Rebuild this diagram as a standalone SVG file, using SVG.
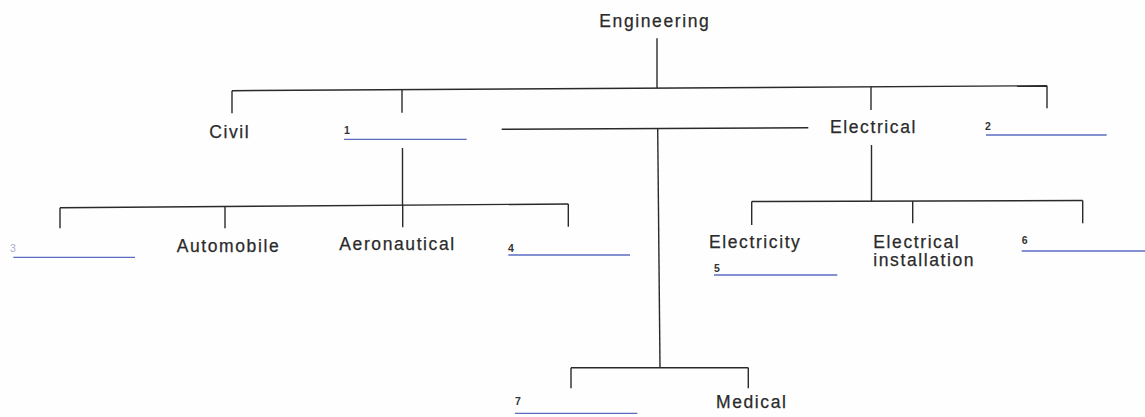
<svg xmlns="http://www.w3.org/2000/svg" width="1145" height="417" viewBox="0 0 1145 417">
<style>
.bg{fill:#fefefe}
.lbl{font-family:"Liberation Sans",Arial,Helvetica,sans-serif;font-size:17.5px;letter-spacing:1.6px;fill:#2a2a2a;stroke:#2a2a2a;stroke-width:0.25}
.num{font-family:"Liberation Sans",Arial,Helvetica,sans-serif;font-size:10.5px;font-weight:bold;fill:#333}
.faint{fill:#a8b0c8;font-weight:normal}
.blank{stroke:#5b6cc0;stroke-width:1.3;fill:none}
.con{stroke:#2a2a2a;stroke-width:1.4;fill:none}
</style>
<rect class="bg" x="0" y="0" width="1145" height="417"/>
<g id="connectors">
  <line class="con" x1="657" y1="38.3" x2="657" y2="88.3"/>
  <line class="con" x1="232" y1="90.7" x2="1047" y2="85.7"/>
  <line class="con" x1="232" y1="90.7" x2="232" y2="113.3"/>
  <line class="con" x1="402" y1="89.7" x2="402" y2="112.7"/>
  <line class="con" x1="871" y1="86.6" x2="871" y2="110"/>
  <line class="con" x1="1047" y1="85.7" x2="1047" y2="108.3"/>
  <line class="con" x1="402.5" y1="148" x2="402.5" y2="206"/>
  <line class="con" x1="60" y1="207.7" x2="568.3" y2="204"/>
  <line class="con" x1="60" y1="207.7" x2="60" y2="228.3"/>
  <line class="con" x1="225" y1="206.5" x2="225" y2="228.3"/>
  <line class="con" x1="402.7" y1="205.2" x2="402.7" y2="227.3"/>
  <line class="con" x1="568.3" y1="204" x2="568.3" y2="226.7"/>
  <line class="con" x1="871.5" y1="145" x2="871.5" y2="201"/>
  <line class="con" x1="751.7" y1="201.5" x2="1082.7" y2="200.5"/>
  <line class="con" x1="751.7" y1="201.5" x2="751.7" y2="225"/>
  <line class="con" x1="912.7" y1="201" x2="912.7" y2="223.3"/>
  <line class="con" x1="1082.7" y1="200.5" x2="1082.7" y2="223.3"/>
  <line class="con" x1="501.7" y1="129.3" x2="808.3" y2="127.7"/>
  <line class="con" x1="657.7" y1="128.7" x2="660" y2="367.7"/>
  <line class="con" x1="571" y1="367.7" x2="748.3" y2="367.7"/>
  <line class="con" x1="571" y1="367.7" x2="571" y2="388.3"/>
  <line class="con" x1="748.3" y1="367.7" x2="748.3" y2="388.3"/>
</g>
<g id="engineering"><text class="lbl" x="599.3" y="27.3">Engineering</text></g>
<g id="civil"><text class="lbl" x="209.3" y="137.7">Civil</text></g>
<g id="blank1"><text class="num" x="344" y="134">1</text><line class="blank" x1="344" y1="139.3" x2="466.7" y2="139.3"/></g>
<g id="electrical"><text class="lbl" x="830" y="132.7">Electrical</text></g>
<g id="blank2"><text class="num" x="985" y="130">2</text><line class="blank" x1="986" y1="135" x2="1106.7" y2="135"/></g>
<g id="blank3"><text class="num faint" x="10" y="252">3</text><line class="blank" x1="13.3" y1="257.3" x2="135" y2="257.3"/></g>
<g id="automobile"><text class="lbl" x="176.7" y="251.7">Automobile</text></g>
<g id="aeronautical"><text class="lbl" x="339.3" y="250">Aeronautical</text></g>
<g id="blank4"><text class="num" x="508" y="251.7">4</text><line class="blank" x1="508.3" y1="255" x2="630" y2="255"/></g>
<g id="electricity"><text class="lbl" x="709" y="248.3">Electricity</text></g>
<g id="blank5"><text class="num" x="714" y="271.7">5</text><line class="blank" x1="714" y1="275" x2="837.3" y2="275"/></g>
<g id="electrical-installation"><text class="lbl" x="873.3" y="248">Electrical</text><text class="lbl" x="873.3" y="265.5">installation</text></g>
<g id="blank6"><text class="num" x="1021.7" y="244.3">6</text><line class="blank" x1="1021.7" y1="251" x2="1145" y2="251"/></g>
<g id="blank7"><text class="num" x="515" y="405">7</text><line class="blank" x1="515" y1="413.3" x2="637.3" y2="413.3"/></g>
<g id="medical"><text class="lbl" x="716" y="408.3">Medical</text></g>
</svg>
